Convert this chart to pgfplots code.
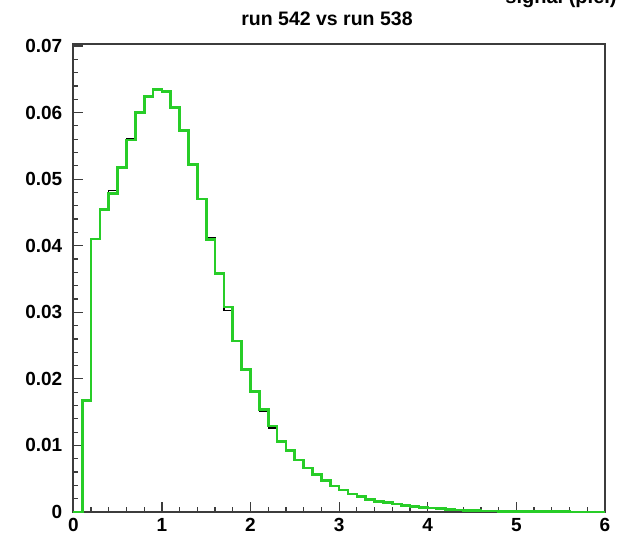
\documentclass[border=0pt]{standalone}
\usepackage{pgfplots}
\pgfplotsset{compat=1.18}
\usepackage{pgfplotstable}
\usepackage{fontspec}
\setmainfont{Liberation Sans}

\definecolor{histgreen}{RGB}{40,205,40}
\definecolor{framegray}{RGB}{60,60,60}

% bin lower edges (width 0.1) and normalised contents; last row closes the final bin
\pgfplotstableread{
x    r538     r542
0.0  0        0
0.1  0.0167   0.0167
0.2  0.0410   0.0410
0.3  0.0456   0.0454
0.4  0.0483   0.0478
0.5  0.0517   0.0517
0.6  0.0561   0.0559
0.7  0.0600   0.0600
0.8  0.0624   0.0624
0.9  0.0635   0.0635
1.0  0.0632   0.0632
1.1  0.0608   0.0608
1.2  0.0575   0.0573
1.3  0.0522   0.0522
1.4  0.0470   0.0470
1.5  0.0412   0.0409
1.6  0.0358   0.0358
1.7  0.0303   0.0308
1.8  0.0257   0.0257
1.9  0.0214   0.0214
2.0  0.0181   0.0181
2.1  0.0151   0.0154
2.2  0.0126   0.0129
2.3  0.0106   0.0106
2.4  0.0091   0.0092
2.5  0.0078   0.0078
2.6  0.0066   0.0066
2.7  0.0056   0.0056
2.8  0.0047   0.0047
2.9  0.0039   0.0039
3.0  0.0033   0.0033
3.1  0.0027   0.0027
3.2  0.0023   0.0023
3.3  0.0019   0.0019
3.4  0.0016   0.0016
3.5  0.0014   0.0014
3.6  0.0012   0.0012
3.7  0.0010   0.0010
3.8  0.00085  0.00085
3.9  0.0007   0.0007
4.0  0.00058  0.00058
4.1  0.00048  0.00048
4.2  0.0004   0.0004
4.3  0.00032  0.00032
4.4  0.00026  0.00026
4.5  0.00021  0.00021
4.6  0.00017  0.00017
4.7  0.00014  0.00014
4.8  0.00011  0.00011
4.9  0.00009  0.00009
5.0  0.00007  0.00007
5.1  0.00006  0.00006
5.2  0.00005  0.00005
5.3  0.00004  0.00004
5.4  0.00003  0.00003
5.5  0.000025 0.000025
5.6  0.00002  0.00002
5.7  0.000015 0.000015
5.8  0.000012 0.000012
5.9  0.00001  0.00001
6.0  0.00001  0.00001
}\histdata

\begin{document}
\begin{tikzpicture}
\begin{axis}[
  at={(36.65pt,10.5pt)}, anchor=south west,
  scale only axis,
  width=265.85pt, height=234pt,
  xmin=0, xmax=6, ymin=0, ymax=0.0703,
  clip=false,
  axis line style={framegray, line width=0.8pt},
  tick style={framegray, line width=0.6pt},
  major tick length=5pt, minor tick length=2.5pt,
  tick align=inside,
  xtick pos=bottom, ytick pos=left,
  xtick={0,1,2,3,4,5,6},
  minor x tick num=4,
  ytick={0,0.01,0.02,0.03,0.04,0.05,0.06,0.07},
  yticklabels={0,0.01,0.02,0.03,0.04,0.05,0.06,0.07},
  minor y tick num=4,
  scaled y ticks=false,
  /pgf/number format/assume math mode=true,
  tick label style={font=\fontsize{9.5}{11}\selectfont\bfseries},
  xticklabel style={inner sep=0pt, anchor=north, yshift=-3pt},
  yticklabel style={inner sep=0pt, anchor=east, xshift=-5.3pt},
]
\addplot[const plot, black, line width=0.7pt] table[x=x, y=r538] {\histdata};
\addplot[const plot, histgreen, line width=1.35pt] table[x=x, y=r542] {\histdata};
\end{axis}
\node[anchor=base, font=\fontsize{9.75}{11}\selectfont\bfseries] at (163.5pt,253.5pt) {run 542 vs run 538};
\node[anchor=base east, inner sep=0pt, font=\fontsize{10}{11}\selectfont\bfseries] at (308.5pt,264.5pt) {signal (p.e.)};
\pgfresetboundingbox
\path[use as bounding box] (0,0) rectangle (311.5pt,266.5pt);
\end{tikzpicture}
\end{document}
